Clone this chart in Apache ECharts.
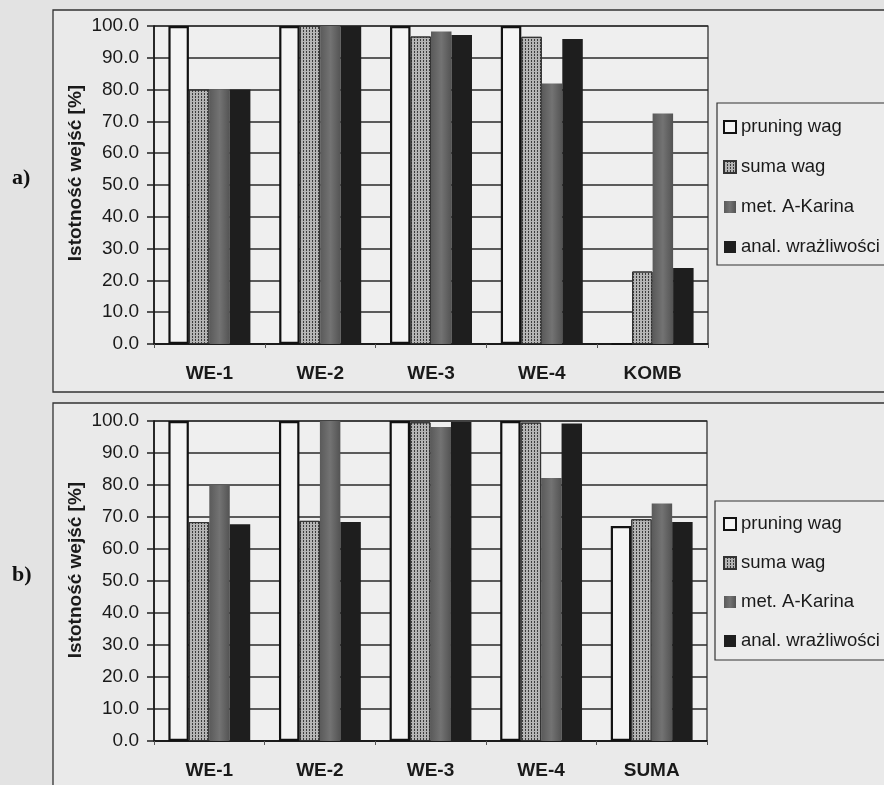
<!DOCTYPE html>
<html>
<head>
<meta charset="utf-8">
<script src="https://cdn.jsdelivr.net/npm/echarts@6/dist/echarts.min.js"></script>
<style>
html,body{margin:0;padding:0;background:#e3e3e3;}
#c{width:884px;height:785px;}
</style>
</head>
<body>
<div id="c"></div>
<script>
// ---- data ----
const seriesNames = ['pruning wag', 'suma wag', 'met. A-Karina', 'anal. wrażliwości'];
const categoriesA = ['WE-1', 'WE-2', 'WE-3', 'WE-4', 'KOMB'];
const categoriesB = ['WE-1', 'WE-2', 'WE-3', 'WE-4', 'SUMA'];
const yTicks = [0, 10, 20, 30, 40, 50, 60, 70, 80, 90, 100];
const yAxisTitle = 'Istotność wejść [%]';
const panelLabels = ['a)', 'b)'];

const pruningA = [100, 100, 100, 100, 0];
const sumaA    = [80, 100, 96.7, 96.6, 22.8];
const karinaA  = [80, 100, 98.3, 81.9, 72.5];
const analA    = [80, 100, 97.2, 95.9, 23.9];

const pruningB = [100, 100, 100, 100, 67.2];
const sumaB    = [68.4, 68.8, 99.6, 99.5, 69.3];
const karinaB  = [79.9, 100, 98.1, 82.2, 74.2];
const analB    = [67.7, 68.4, 99.7, 99.2, 68.4];

// ---- styles ----
const styles = [
  {color: '#f4f4f4', borderColor: '#111', borderWidth: 2.2},
  {color: '#b4b4b4', borderColor: '#333', borderWidth: 1,
   decal: {symbol: 'rect', symbolSize: 1, color: 'rgba(30,30,30,0.8)', dashArrayX: [1, 2], dashArrayY: [2, 1], rotation: 0}},
  {color: new echarts.graphic.LinearGradient(0, 0, 1, 0, [{offset: 0, color: '#5a5a5a'}, {offset: 0.5, color: '#737373'}, {offset: 1, color: '#535353'}])},
  {color: '#1e1e1e'}
];

const gridsDef = [
  {left: 154, top: 26, width: 554, height: 318},
  {left: 154, top: 421, width: 553, height: 320}
];

const font = '"Liberation Sans", Arial, sans-serif';

function xAxisFor(idx, cats) {
  return {
    type: 'category', gridIndex: idx, data: cats,
    axisLine: {show: true, lineStyle: {color: '#111', width: 1.5}},
    axisTick: {show: true, alignWithLabel: false, length: 4, lineStyle: {color: '#555'}},
    axisLabel: {fontFamily: font, fontWeight: 'bold', fontSize: 19, color: '#1a1a1a', margin: 20}
  };
}
function yAxisFor(idx) {
  return {
    type: 'value', gridIndex: idx, min: yTicks[0], max: yTicks[yTicks.length - 1], interval: yTicks[1] - yTicks[0],
    axisLine: {show: true, lineStyle: {color: '#111', width: 1.5}},
    axisTick: {show: true, inside: false, length: 7, lineStyle: {color: '#222', width: 1.5}},
    axisLabel: {fontFamily: font, fontSize: 19, color: '#1a1a1a', margin: 15, formatter: v => v.toFixed(1)},
    splitLine: {show: true, lineStyle: {color: '#2a2a2a', width: 1.5}}
  };
}

const dataA = [pruningA, sumaA, karinaA, analA];
const dataB = [pruningB, sumaB, karinaB, analB];
const series = [];
[dataA, dataB].forEach((set, g) => {
  set.forEach((vals, i) => {
    series.push({
      type: 'bar', name: seriesNames[i], xAxisIndex: g, yAxisIndex: g,
      data: vals, barGap: '0%', barCategoryGap: '26%',
      itemStyle: styles[i], emphasis: {disabled: true}, animation: false
    });
  });
});

const legendCommon = {
  orient: 'vertical', data: seriesNames, itemWidth: 12, itemHeight: 12, icon: 'rect',
  textStyle: {fontFamily: font, fontSize: 18.5, color: '#1a1a1a', lineHeight: 20},
  selectedMode: false, padding: 0
};

const yTitleFont = 'bold 19px "Liberation Sans", Arial, sans-serif';
const panelFont = 'bold 22px "Liberation Serif", "DejaVu Serif", serif';

const chart = echarts.init(document.getElementById('c'), null, {renderer: 'canvas'});
chart.setOption({
  backgroundColor: '#e3e3e3',
  animation: false,
  aria: {enabled: false},
  grid: gridsDef.map(g => Object.assign({containLabel: false, show: true, backgroundColor: '#efefef', borderColor: '#222', borderWidth: 1.2}, g)),
  xAxis: [xAxisFor(0, categoriesA), xAxisFor(1, categoriesB)],
  yAxis: [yAxisFor(0), yAxisFor(1)],
  legend: [
    Object.assign({left: 723, top: 117, itemGap: 20}, legendCommon),
    Object.assign({left: 723, top: 514, itemGap: 19}, legendCommon)
  ],
  graphic: [
    {type: 'rect', z: -10, shape: {x: 53, y: 10, width: 900, height: 382}, style: {fill: '#eaeaea', stroke: '#333', lineWidth: 1.3}},
    {type: 'rect', z: -10, shape: {x: 53, y: 403, width: 900, height: 500}, style: {fill: '#eaeaea', stroke: '#333', lineWidth: 1.3}},
    {type: 'rect', z: 1, shape: {x: 717, y: 103, width: 200, height: 162}, style: {fill: '#ececec', stroke: '#333', lineWidth: 1.2}},
    {type: 'rect', z: 1, shape: {x: 715, y: 501, width: 200, height: 159}, style: {fill: '#ececec', stroke: '#333', lineWidth: 1.2}},
    {type: 'text', x: 76, y: 173, rotation: Math.PI / 2, style: {text: yAxisTitle, font: yTitleFont, fill: '#1a1a1a', textAlign: 'center', textVerticalAlign: 'middle'}},
    {type: 'text', x: 76, y: 570, rotation: Math.PI / 2, style: {text: yAxisTitle, font: yTitleFont, fill: '#1a1a1a', textAlign: 'center', textVerticalAlign: 'middle'}},
    {type: 'text', left: 12, top: 167, style: {text: panelLabels[0], font: panelFont, fill: '#111'}},
    {type: 'text', left: 12, top: 564, style: {text: panelLabels[1], font: panelFont, fill: '#111'}}
  ],
  series: series
});
</script>
</body>
</html>
